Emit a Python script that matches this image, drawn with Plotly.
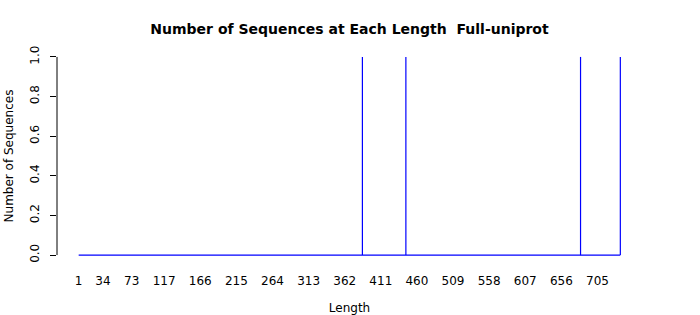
import plotly.graph_objects as go

# Data
min_length = 1
max_length = 736
spike_lengths = [386, 445, 682, 736]
spike_counts = [1, 1, 1, 1]
tick_labels = [1, 34, 73, 117, 166, 215, 264, 313, 362, 411, 460, 509, 558, 607, 656, 705]
y_ticks = [0.0, 0.2, 0.4, 0.6, 0.8, 1.0]

# Build line: baseline plus vertical spikes (like R type="h"/"l")
xs = [min_length, max_length, None]
ys = [0, 0, None]
for L, c in zip(spike_lengths, spike_counts):
    xs += [L, L, None]
    ys += [0, c, None]

span = max_length - min_length
xr = [min_length - 0.04 * span, max_length + 0.04 * span]
yr = [-0.04, 1.04]

fig = go.Figure()
fig.add_trace(go.Scatter(x=xs, y=ys, mode="lines",
                         line=dict(color="#0000FF", width=1.2),
                         connectgaps=False, hoverinfo="skip", showlegend=False))

font = "DejaVu Sans, sans-serif"
fig.update_layout(
    width=700, height=315,
    margin=dict(l=57, r=58, t=49, b=52, autoexpand=False),
    plot_bgcolor="white", paper_bgcolor="white",
    title=dict(text="<b>Number of Sequences at Each Length  Full-uniprot</b>",
               x=0.5, xanchor="center", xref="paper", y=1 - 29 / 315, yanchor="middle",
               font=dict(family=font, size=14, color="black")),
    font=dict(family=font, size=12, color="black"),
)
fig.update_xaxes(range=xr, tickvals=tick_labels, ticktext=[str(t) for t in tick_labels],
                 showgrid=False, zeroline=False, showline=False, ticks="",
                 ticklen=0, ticklabelstandoff=9, automargin=False,
                 tickfont=dict(size=12, family=font),
                 title=dict(text="Length", font=dict(size=12, family=font), standoff=18))
fig.update_yaxes(range=yr, tickvals=y_ticks, ticktext=[f"{v:.1f}" for v in y_ticks],
                 showgrid=False, zeroline=False, showline=False,
                 ticks="outside", ticklen=6, tickcolor="black", tickwidth=1,
                 tickangle=-90, ticklabelstandoff=6, automargin=False,
                 tickfont=dict(size=12, family=font),
                 title=dict(text="Number of Sequences", font=dict(size=12, family=font), standoff=12))
# y axis line from 0 to 1 only
fig.add_shape(type="line", xref="paper", yref="y", x0=0, x1=0, y0=0, y1=1,
              line=dict(color="black", width=1))

fig.write_html("out.html")
